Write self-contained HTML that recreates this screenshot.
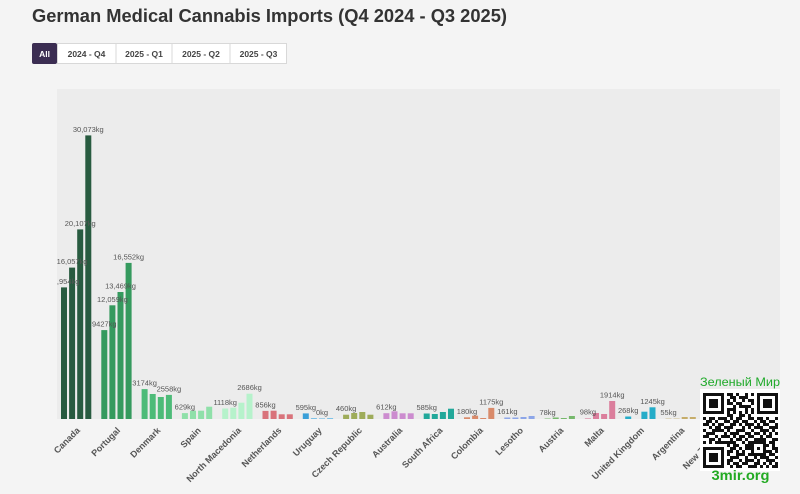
<!DOCTYPE html>
<html><head><meta charset="utf-8">
<style>
html,body{margin:0;padding:0;background:#f4f4f4;}
svg{display:block;font-family:"Liberation Sans",sans-serif;}
</style></head>
<body>
<svg width="800" height="494" viewBox="0 0 800 494" xmlns="http://www.w3.org/2000/svg">
<rect width="800" height="494" fill="#f4f4f4"/>
<text x="32" y="22" font-size="18.5" font-weight="700" fill="#333" textLength="475" lengthAdjust="spacingAndGlyphs">German Medical Cannabis Imports (Q4 2024 - Q3 2025)</text>
<!-- buttons -->
<rect x="57.5" y="43.5" width="229" height="20" fill="#fff" stroke="#d8d8d8"/>
<line x1="116" y1="43.5" x2="116" y2="63.5" stroke="#d8d8d8"/>
<line x1="172" y1="43.5" x2="172" y2="63.5" stroke="#d8d8d8"/>
<line x1="230" y1="43.5" x2="230" y2="63.5" stroke="#d8d8d8"/>
<rect x="32" y="43" width="25" height="21" rx="2" fill="#3b2d52"/>
<g font-size="8.5" font-weight="700" text-anchor="middle">
<text x="44.5" y="57" fill="#fff">All</text>
<text x="86.5" y="57" fill="#444">2024 - Q4</text>
<text x="144" y="57" fill="#444">2025 - Q1</text>
<text x="201" y="57" fill="#444">2025 - Q2</text>
<text x="258.5" y="57" fill="#444">2025 - Q3</text>
</g>
<!-- plot bg -->
<rect x="57" y="89" width="723" height="330" fill="#ececec"/>
<defs><clipPath id="pc"><rect x="57" y="80" width="730" height="345"/></clipPath></defs>
<g clip-path="url(#pc)">
<!-- Canada -->
<g fill="#285b40">
<rect x="61" y="287.4" width="6" height="131.6"/>
<rect x="69.1" y="267.6" width="6" height="151.4"/>
<rect x="77.2" y="229.4" width="6" height="189.6"/>
<rect x="85.3" y="135.4" width="6" height="283.6"/>
</g>
<!-- Portugal -->
<g fill="#359a5e">
<rect x="101.3" y="330.1" width="6" height="88.9"/>
<rect x="109.4" y="305.3" width="6" height="113.7"/>
<rect x="117.5" y="292" width="6" height="127"/>
<rect x="125.6" y="262.9" width="6" height="156.1"/>
</g>
<!-- Denmark -->
<g fill="#4dbb78">
<rect x="141.6" y="389.1" width="6" height="29.9"/>
<rect x="149.7" y="394" width="6" height="25"/>
<rect x="157.8" y="397" width="6" height="22"/>
<rect x="165.9" y="394.9" width="6" height="24.1"/>
</g>
<!-- Spain -->
<g fill="#8fe0a9">
<rect x="181.9" y="413.1" width="6" height="5.9"/>
<rect x="190" y="410.7" width="6" height="8.3"/>
<rect x="198.1" y="410.7" width="6" height="8.3"/>
<rect x="206.2" y="406.7" width="6" height="12.3"/>
</g>
<!-- North Macedonia -->
<g fill="#b6f2cb">
<rect x="222.2" y="408.5" width="6" height="10.5"/>
<rect x="230.3" y="407.7" width="6" height="11.3"/>
<rect x="238.4" y="402.7" width="6" height="16.3"/>
<rect x="246.5" y="393.7" width="6" height="25.3"/>
</g>
<!-- Netherlands -->
<g fill="#d9737b">
<rect x="262.5" y="410.9" width="6" height="8.1"/>
<rect x="270.6" y="410.7" width="6" height="8.3"/>
<rect x="278.7" y="414.3" width="6" height="4.7"/>
<rect x="286.8" y="414.3" width="6" height="4.7"/>
</g>
<!-- Uruguay -->
<rect x="302.8" y="413.4" width="6" height="5.6" fill="#3a9fd8"/>
<g fill="#7fc2e6">
<rect x="310.9" y="418" width="6" height="1"/>
<rect x="319" y="418.3" width="6" height="0.7"/>
<rect x="327.1" y="418" width="6" height="1"/>
</g>
<!-- Czech -->
<g fill="#9eac5a">
<rect x="343.1" y="414.7" width="6" height="4.3"/>
<rect x="351.2" y="413" width="6" height="6"/>
<rect x="359.3" y="412" width="6" height="7"/>
<rect x="367.4" y="414.7" width="6" height="4.3"/>
</g>
<!-- Australia -->
<g fill="#cc8ccf">
<rect x="383.4" y="413.2" width="6" height="5.8"/>
<rect x="391.5" y="411.3" width="6" height="7.7"/>
<rect x="399.6" y="413.3" width="6" height="5.7"/>
<rect x="407.7" y="413.3" width="6" height="5.7"/>
</g>
<!-- South Africa -->
<g fill="#22a89a">
<rect x="423.7" y="413.5" width="6" height="5.5"/>
<rect x="431.8" y="414" width="6" height="5"/>
<rect x="439.9" y="412" width="6" height="7"/>
<rect x="448" y="408.7" width="6" height="10.3"/>
</g>
<!-- Colombia -->
<g fill="#d98a6a">
<rect x="464" y="417.3" width="6" height="1.7"/>
<rect x="472.1" y="415.7" width="6" height="3.3"/>
<rect x="480.2" y="418" width="6" height="1"/>
<rect x="488.3" y="407.9" width="6" height="11.1"/>
</g>
<!-- Lesotho -->
<g fill="#8da6e8">
<rect x="504.3" y="417.5" width="6" height="1.5"/>
<rect x="512.4" y="417.5" width="6" height="1.5"/>
<rect x="520.5" y="417" width="6" height="2"/>
<rect x="528.6" y="416" width="6" height="3"/>
</g>
<!-- Austria -->
<g fill="#76b86c">
<rect x="544.6" y="418.2" width="6" height="0.8" opacity="0.6"/>
<rect x="552.7" y="417.5" width="6" height="1.5"/>
<rect x="560.8" y="418" width="6" height="1"/>
<rect x="568.9" y="416" width="6" height="3"/>
</g>
<!-- Malta -->
<g fill="#db7e9c">
<rect x="584.9" y="418" width="6" height="1" opacity="0.6"/>
<rect x="593" y="413" width="6" height="6"/>
<rect x="601.1" y="414" width="6" height="5"/>
<rect x="609.2" y="401" width="6" height="18"/>
</g>
<!-- UK -->
<g fill="#25acc8">
<rect x="625.2" y="416.5" width="6" height="2.5"/>
<rect x="641.4" y="411.7" width="6" height="7.3"/>
<rect x="649.5" y="407.3" width="6" height="11.7"/>
</g>
<!-- Argentina -->
<g fill="#c6ad6a">
<rect x="665.5" y="418.3" width="6" height="0.7" opacity="0.5"/>
<rect x="673.6" y="418.3" width="6" height="0.7" opacity="0.5"/>
<rect x="681.7" y="417" width="6" height="2"/>
<rect x="689.8" y="417" width="6" height="2"/>
</g>
<!-- NZ -->
<g fill="#b8b8b8">
<rect x="705.8" y="417" width="6" height="2"/>
<rect x="713.9" y="417" width="6" height="2"/>
</g>
<!-- value labels -->
<g font-size="7.5" fill="#555" text-anchor="middle">
<text x="64" y="283.9">13,954kg</text>
<text x="72.1" y="264.1">16,057kg</text>
<text x="80.2" y="225.9">20,107kg</text>
<text x="88.3" y="131.9">30,073kg</text>
<text x="104.3" y="326.6">9427kg</text>
<text x="112.4" y="301.8">12,059kg</text>
<text x="120.5" y="288.5">13,469kg</text>
<text x="128.6" y="259.4">16,552kg</text>
<text x="144.6" y="385.6">3174kg</text>
<text x="168.9" y="391.4">2558kg</text>
<text x="184.9" y="409.6">629kg</text>
<text x="225.2" y="405">1118kg</text>
<text x="249.5" y="390.2">2686kg</text>
<text x="265.5" y="407.4">856kg</text>
<text x="305.8" y="409.9">595kg</text>
<text x="322" y="415">0kg</text>
<text x="346.1" y="411.2">460kg</text>
<text x="386.4" y="409.7">612kg</text>
<text x="426.7" y="410">585kg</text>
<text x="467" y="413.8">180kg</text>
<text x="491.3" y="404.4">1175kg</text>
<text x="507.3" y="414">161kg</text>
<text x="547.6" y="414.8">78kg</text>
<text x="587.9" y="414.6">98kg</text>
<text x="612.2" y="397.5">1914kg</text>
<text x="628.2" y="413">268kg</text>
<text x="652.5" y="403.8">1245kg</text>
<text x="668.5" y="415">55kg</text>
</g>
</g>
<!-- category labels -->
<g font-size="9" font-weight="700" fill="#555" text-anchor="end">
<text transform="translate(80.5,431) rotate(-45)">Canada</text>
<text transform="translate(120.8,431) rotate(-45)">Portugal</text>
<text transform="translate(161.1,431) rotate(-45)">Denmark</text>
<text transform="translate(201.4,431) rotate(-45)">Spain</text>
<text transform="translate(241.7,431) rotate(-45)">North Macedonia</text>
<text transform="translate(282,431) rotate(-45)">Netherlands</text>
<text transform="translate(322.3,431) rotate(-45)">Uruguay</text>
<text transform="translate(362.6,431) rotate(-45)">Czech Republic</text>
<text transform="translate(402.9,431) rotate(-45)">Australia</text>
<text transform="translate(443.2,431) rotate(-45)">South Africa</text>
<text transform="translate(483.5,431) rotate(-45)">Colombia</text>
<text transform="translate(523.8,431) rotate(-45)">Lesotho</text>
<text transform="translate(564.1,431) rotate(-45)">Austria</text>
<text transform="translate(604.4,431) rotate(-45)">Malta</text>
<text transform="translate(644.7,431) rotate(-45)">United Kingdom</text>
<text transform="translate(685,431) rotate(-45)">Argentina</text>
<text transform="translate(725.3,431) rotate(-45)">New Zealand</text>
</g>
<!-- QR watermark -->
<text x="740" y="386" font-size="12" fill="#1faa2a" text-anchor="middle" textLength="80" lengthAdjust="spacingAndGlyphs">Зеленый Мир</text>
<rect x="700" y="389" width="80" height="82" fill="#fff"/>
<path transform="translate(703,393) scale(3)" fill="#111" d="
M0 0h7v1h-7zM8 0h2v1h-2zM11 0h1v1h-1zM14 0h1v1h-1zM16 0h1v1h-1zM18 0h7v1h-7z
M0 1h1v1h-1zM6 1h1v1h-1zM9 1h2v1h-2zM12 1h3v1h-3zM18 1h1v1h-1zM24 1h1v1h-1z
M0 2h1v1h-1zM2 2h3v1h-3zM6 2h1v1h-1zM8 2h1v1h-1zM10 2h1v1h-1zM13 2h1v1h-1zM15 2h2v1h-2zM18 2h1v1h-1zM20 2h3v1h-3zM24 2h1v1h-1z
M0 3h1v1h-1zM2 3h3v1h-3zM6 3h1v1h-1zM8 3h2v1h-2zM11 3h2v1h-2zM16 3h1v1h-1zM18 3h1v1h-1zM20 3h3v1h-3zM24 3h1v1h-1z
M0 4h1v1h-1zM2 4h3v1h-3zM6 4h1v1h-1zM10 4h1v1h-1zM12 4h4v1h-4zM18 4h1v1h-1zM20 4h3v1h-3zM24 4h1v1h-1z
M0 5h1v1h-1zM6 5h1v1h-1zM8 5h3v1h-3zM14 5h1v1h-1zM16 5h1v1h-1zM18 5h1v1h-1zM24 5h1v1h-1z
M0 6h7v1h-7zM8 6h1v1h-1zM10 6h1v1h-1zM12 6h1v1h-1zM14 6h1v1h-1zM16 6h1v1h-1zM18 6h7v1h-7z
M8 7h2v1h-2zM12 7h2v1h-2zM15 7h1v1h-1z
M0 8h1v1h-1zM2 8h2v1h-2zM5 8h3v1h-3zM9 8h1v1h-1zM11 8h2v1h-2zM15 8h2v1h-2zM18 8h2v1h-2zM21 8h1v1h-1zM24 8h1v1h-1z
M1 9h2v1h-2zM4 9h1v1h-1zM7 9h2v1h-2zM10 9h2v1h-2zM13 9h2v1h-2zM17 9h1v1h-1zM19 9h2v1h-2zM22 9h2v1h-2z
M0 10h2v1h-2zM3 10h1v1h-1zM5 10h2v1h-2zM9 10h2v1h-2zM12 10h1v1h-1zM14 10h3v1h-3zM18 10h1v1h-1zM20 10h2v1h-2zM24 10h1v1h-1z
M2 11h1v1h-1zM4 11h2v1h-2zM7 11h3v1h-3zM13 11h1v1h-1zM15 11h1v1h-1zM17 11h3v1h-3zM22 11h3v1h-3z
M0 12h1v1h-1zM3 12h4v1h-4zM8 12h1v1h-1zM11 12h3v1h-3zM16 12h1v1h-1zM19 12h3v1h-3zM23 12h1v1h-1z
M1 13h3v1h-3zM7 13h1v1h-1zM9 13h3v1h-3zM14 13h2v1h-2zM17 13h2v1h-2zM20 13h1v1h-1zM22 13h1v1h-1zM24 13h1v1h-1z
M0 14h2v1h-2zM4 14h1v1h-1zM6 14h3v1h-3zM10 14h1v1h-1zM12 14h2v1h-2zM15 14h2v1h-2zM19 14h1v1h-1zM21 14h2v1h-2z
M2 15h2v1h-2zM5 15h1v1h-1zM9 15h1v1h-1zM11 15h2v1h-2zM14 15h1v1h-1zM17 15h4v1h-4zM23 15h2v1h-2z
M0 16h1v1h-1zM2 16h1v1h-1zM4 16h7v1h-7zM13 16h1v1h-1zM15 16h6v1h-6zM22 16h2v1h-2z
M8 17h1v1h-1zM10 17h2v1h-2zM14 17h3v1h-3zM20 17h2v1h-2zM23 17h1v1h-1z
M0 18h7v1h-7zM9 18h2v1h-2zM12 18h1v1h-1zM14 18h3v1h-3zM18 18h1v1h-1zM20 18h1v1h-1zM23 18h2v1h-2z
M0 19h1v1h-1zM6 19h1v1h-1zM8 19h2v1h-2zM11 19h1v1h-1zM13 19h1v1h-1zM16 19h1v1h-1zM20 19h3v1h-3zM24 19h1v1h-1z
M0 20h1v1h-1zM2 20h3v1h-3zM6 20h1v1h-1zM8 20h1v1h-1zM11 20h3v1h-3zM15 20h6v1h-6zM22 20h2v1h-2z
M0 21h1v1h-1zM2 21h3v1h-3zM6 21h1v1h-1zM9 21h3v1h-3zM14 21h1v1h-1zM17 21h1v1h-1zM19 21h3v1h-3zM24 21h1v1h-1z
M0 22h1v1h-1zM2 22h3v1h-3zM6 22h1v1h-1zM8 22h2v1h-2zM12 22h1v1h-1zM14 22h3v1h-3zM18 22h1v1h-1zM21 22h3v1h-3z
M0 23h1v1h-1zM6 23h1v1h-1zM8 23h1v1h-1zM10 23h2v1h-2zM13 23h2v1h-2zM17 23h2v1h-2zM20 23h1v1h-1zM22 23h1v1h-1zM24 23h1v1h-1z
M0 24h7v1h-7zM9 24h1v1h-1zM11 24h2v1h-2zM15 24h3v1h-3zM19 24h1v1h-1zM21 24h1v1h-1zM23 24h2v1h-2z"/>
<text x="740.5" y="480" font-size="14" font-weight="700" fill="#22aa22" text-anchor="middle" textLength="58" lengthAdjust="spacingAndGlyphs">3mir.org</text>
</svg>
</body></html>
